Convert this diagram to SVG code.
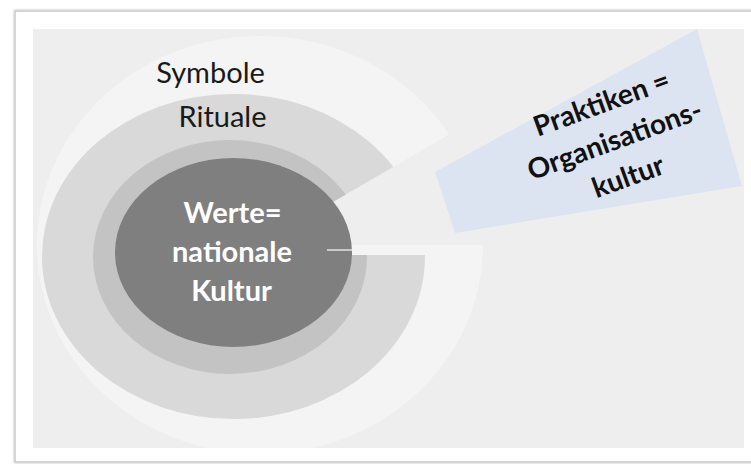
<svg xmlns="http://www.w3.org/2000/svg" width="751" height="464" viewBox="0 0 751 464">
  <style>
    .lbl { font-family: Lato, "Open Sans", "Liberation Sans", sans-serif; font-size: 29px; fill: #1a1a1a; text-anchor: middle; }
    .core { font-family: Lato, "Open Sans", "Liberation Sans", sans-serif; font-size: 29px; font-weight: bold; fill: #ffffff; text-anchor: middle; }
    .prak { font-family: Lato, "Open Sans", "Liberation Sans", sans-serif; font-size: 28px; font-weight: bold; fill: #111111; text-anchor: middle; }
  </style>
  <defs>
    <clipPath id="panel"><rect x="33" y="29" width="711" height="419"/></clipPath>
    <clipPath id="cutOuter"><polygon points="258.6,245 800,245 800,800 -200,800 -200,-200 800,-200 800,-69"/></clipPath>
    <clipPath id="cutInner"><polygon points="241.4,255 800,255 800,800 -200,800 -200,-200 800,-200 800,-69"/></clipPath>
    <filter id="shadow" x="-5%" y="-5%" width="110%" height="110%">
      <feGaussianBlur stdDeviation="1.2"/>
    </filter>
  </defs>

  <rect x="0" y="0" width="751" height="464" fill="#ffffff"/>
  <!-- slide frame with soft shadow -->
  <rect x="15" y="11" width="740" height="451" fill="none" stroke="#b8b8b8" stroke-width="2" filter="url(#shadow)"/>
  <rect x="16" y="12" width="740" height="449" fill="#ffffff"/>
  <rect x="33" y="29" width="711" height="419" fill="#eeeeee"/>

  <g clip-path="url(#panel)">
    <g id="symbole-ring">
      <ellipse cx="260" cy="245" rx="223" ry="209" fill="#f4f4f4" clip-path="url(#cutOuter)"/>
    </g>
    <g id="praktiken">
      <polygon points="435,172 697,29 742,186 455,233" fill="#dde4f1"/>
    </g>
  </g>

  <g id="rituale-ring">
    <ellipse cx="233.5" cy="256.5" rx="191.5" ry="162.5" fill="#d9d9d9" clip-path="url(#cutInner)"/>
  </g>
  <g id="middle-ring">
    <ellipse cx="230" cy="257" rx="137" ry="117" fill="#c3c3c3" clip-path="url(#cutInner)"/>
  </g>
  <g id="werte">
    <ellipse cx="233.5" cy="252.5" rx="118.5" ry="94.5" fill="#7f7f7f"/>
    <line x1="327" y1="250" x2="352" y2="250" stroke="#e2e2e2" stroke-width="1.5"/>
    <text class="core" x="232.5" y="223">Werte=</text>
    <text class="core" x="232" y="262">nationale</text>
    <text class="core" x="231.5" y="301">Kultur</text>
  </g>

  <g id="labels">
    <text class="lbl" x="210.5" y="83">Symbole</text>
    <text class="lbl" x="222.5" y="127">Rituale</text>
  </g>

  <g id="praktiken-text" transform="translate(618,149) rotate(-20)">
    <text class="prak" x="0" y="-39">Praktiken =</text>
    <text class="prak" x="0" y="0">Organisations-</text>
    <text class="prak" x="0" y="39">kultur</text>
  </g>

  <g id="connectors"></g>
</svg>
